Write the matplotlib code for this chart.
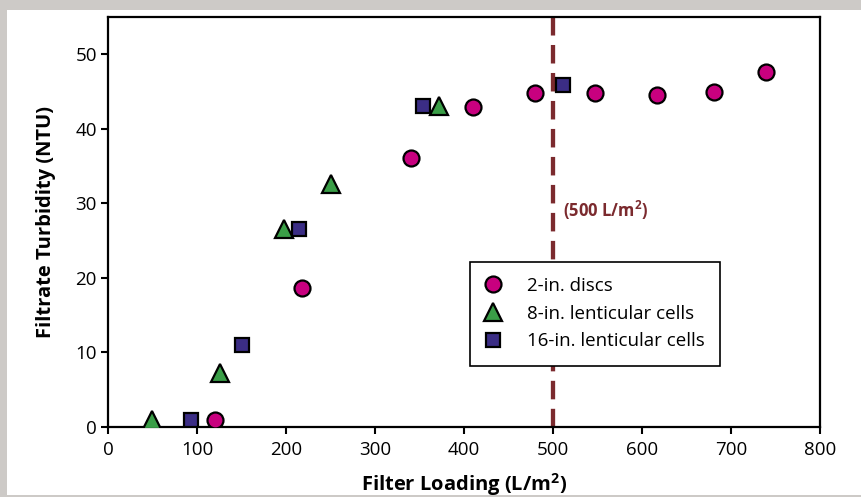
import matplotlib
matplotlib.use("Agg")
import matplotlib.pyplot as plt
from matplotlib.patches import Rectangle

plt.rcParams['font.family'] = ['Open Sans', 'DejaVu Sans']

# data
disc_x = [120, 218, 340, 410, 480, 547, 617, 681, 739]
disc_y = [0.9, 18.6, 36.1, 42.9, 44.8, 44.8, 44.5, 45.0, 47.6]

lent8_x = [49, 126, 198, 251, 372]
lent8_y = [0.9, 7.3, 26.5, 32.6, 43.0]

lent16_x = [93, 151, 215, 354, 511]
lent16_y = [1.0, 11.0, 26.6, 43.0, 45.9]

labels = ["2-in. discs", "8-in. lenticular cells", "16-in. lenticular cells"]
limit_x = 500
limit_label = "(500 L/m$^\\mathregular{2}$)"

fig = plt.figure(figsize=(8.62, 4.97), dpi=100)
fig.patch.set_facecolor('#cdcac7')
# white panel inside the gray border
fig.patches.append(Rectangle((7 / 862, 2 / 497), 1, 485 / 497, transform=fig.transFigure,
                             facecolor='white', edgecolor='none', zorder=-10))

ax = fig.add_axes([108 / 862, 70 / 497, 712 / 862, 410 / 497])
ax.set_facecolor('white')

# dashed limit line, drawn top-down so the dash pattern starts at the top spine
ax.plot([limit_x, limit_x], [55, 0], color='#7b2a2e', lw=3.1, dashes=(4.3, 2.2),
        zorder=1, scalex=False, scaley=False)
ax.text(limit_x + 11, 29, limit_label, color='#7b2a2e', fontsize=12,
        fontweight='bold', va='center', ha='left')

mk = dict(linestyle='none', markeredgecolor='black', markeredgewidth=1.6, zorder=3)
ax.plot(disc_x, disc_y, marker='o', markersize=11.5, markerfacecolor='#c8007f',
        label=labels[0], **mk)
ax.plot(lent8_x, lent8_y, marker='^', markersize=12.5, markerfacecolor='#3a9e47',
        label=labels[1], **mk)
ax.plot(lent16_x, lent16_y, marker='s', markersize=10.5, markerfacecolor='#3b2d85',
        label=labels[2], **mk)

ax.set_xlim(0, 800)
ax.set_ylim(0, 55)
ax.set_xticks(range(0, 801, 100))
ax.set_yticks(range(0, 51, 10))
ax.tick_params(direction='out', length=5, width=1.5, labelsize=13.5,
               top=False, right=False)
ax.tick_params(axis='x', pad=5)
ax.tick_params(axis='y', pad=3)
for s in ax.spines.values():
    s.set_linewidth(1.6)

ax.set_xlabel("Filter Loading (L/m$^\\mathregular{2}$)", fontsize=14.5, fontweight='bold', labelpad=9)
ax.set_ylabel("Filtrate Turbidity (NTU)", fontsize=14.5, fontweight='bold', labelpad=14)

leg = ax.legend(loc='lower left', bbox_to_anchor=(0.508, 0.15), fontsize=13.5,
                fancybox=False, framealpha=1, edgecolor='black', handletextpad=1.4,
                borderpad=0.8, labelspacing=0.53, handlelength=0.85, borderaxespad=0)
leg.get_frame().set_linewidth(1.2)

fig.savefig("out.png", dpi=100, facecolor=fig.get_facecolor())
